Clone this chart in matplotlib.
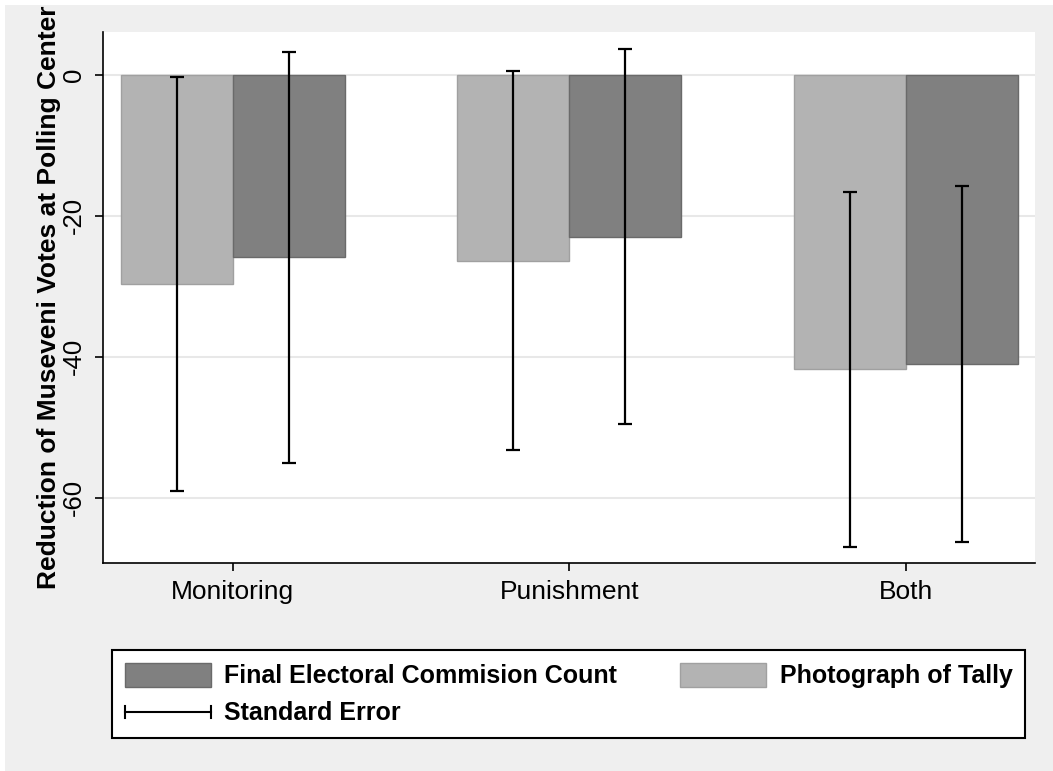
import numpy as np
import matplotlib.pyplot as plt
from matplotlib.patches import Rectangle, Patch
from matplotlib.lines import Line2D
from matplotlib.legend_handler import HandlerBase

plt.rcParams['font.family'] = ['Liberation Sans', 'DejaVu Sans']

# Dati
categorie = ['Monitoring', 'Punishment', 'Both']
foto = [-29.7, -26.4, -41.8]        # Photograph of Tally
foto_se = [29.4, 26.9, 25.25]
conteggio = [-25.9, -22.95, -41.0]  # Final Electoral Commision Count
conteggio_se = [29.2, 26.65, 25.3]
yticks = [0, -20, -40, -60]


# Simbolo della legenda per l'errore standard: |-----|
class HandlerSE(HandlerBase):
    def create_artists(self, legend, orig_handle, xdescent, ydescent,
                       width, height, fontsize, trans):
        y = height / 2 - ydescent
        x0 = -xdescent
        x1 = width - xdescent
        h = 4
        linee = [Line2D([x0, x1], [y, y]),
                 Line2D([x0, x0], [y - h, y + h]),
                 Line2D([x1, x1], [y - h, y + h])]
        for l in linee:
            l.set_color('black')
            l.set_linewidth(1.5)
            l.set_transform(trans)
        return linee


fig = plt.figure(figsize=(10.53, 7.71), dpi=100)
fig.patch.set_facecolor('white')
# sfondo grigio
fig.patches.append(Rectangle((5 / 1053, 0), 1, 1 - 5 / 771, transform=fig.transFigure,
                             facecolor='#efefef', edgecolor='none', zorder=-10))

ax = fig.add_axes([103 / 1053, 1 - 563 / 771, (1035 - 103) / 1053, (563 - 32) / 771])
ax.set_facecolor('white')

x = np.arange(1, len(categorie) + 1)
w = 0.333

ax.bar(x - w / 2, foto, w, color='#b3b3b3', edgecolor='#a0a0a0', linewidth=1, zorder=2)
ax.bar(x + w / 2, conteggio, w, color='#808080', edgecolor='#6a6a6a', linewidth=1, zorder=2)
ax.errorbar(x - w / 2, foto, yerr=foto_se, fmt='none', ecolor='black',
            elinewidth=1.6, capsize=5, capthick=1.6, zorder=3)
ax.errorbar(x + w / 2, conteggio, yerr=conteggio_se, fmt='none', ecolor='black',
            elinewidth=1.6, capsize=5, capthick=1.6, zorder=3)

ax.set_xlim(0.614, 3.384)
ax.set_ylim(-69.3, 6.1)
ax.set_yticks(yticks)
ax.set_yticklabels([str(v) for v in yticks], rotation=90, va='center', fontsize=18.5)
ax.set_xticks(x)
ax.set_xticklabels(categorie, fontsize=19)
ax.tick_params(axis='both', length=6, width=1.2, color='black', direction='out')
ax.tick_params(axis='y', pad=6)
ax.tick_params(axis='x', pad=6)
ax.grid(axis='y', color='#e8e8e8', linewidth=1.5, zorder=0)
ax.set_axisbelow(True)
for s in ['top', 'right']:
    ax.spines[s].set_visible(False)
for s in ['left', 'bottom']:
    ax.spines[s].set_linewidth(1.2)
ax.set_ylabel('Reduction of Museveni Votes at Polling Center', fontsize=19,
              fontweight='bold', labelpad=1)

# Legenda
h_ec = Patch(facecolor='#808080', edgecolor='#6a6a6a')
h_foto = Patch(facecolor='#b3b3b3', edgecolor='#a0a0a0')
h_se = object()
leg = fig.legend([h_ec, h_se, h_foto],
                 ['Final Electoral Commision Count', 'Standard Error', 'Photograph of Tally'],
                 handler_map={object: HandlerSE()},
                 ncol=2, loc='upper left',
                 bbox_to_anchor=(112 / 1053, 1 - 737 / 771, 913 / 1053, 87 / 771),
                 mode='expand', borderaxespad=0, frameon=True, fancybox=False,
                 prop={'weight': 'bold', 'size': 18},
                 handlelength=3.45, handleheight=1.15, handletextpad=0.55,
                 labelspacing=0.45, borderpad=0.5, columnspacing=2.12)
leg.get_frame().set_edgecolor('black')
leg.get_frame().set_linewidth(1.5)
leg.get_frame().set_facecolor('white')
leg.get_frame().set_alpha(1)

fig.savefig('out.png', dpi=100, facecolor=fig.get_facecolor())
